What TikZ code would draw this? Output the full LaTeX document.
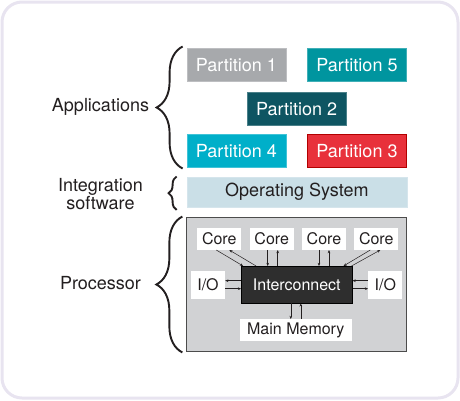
\documentclass[tikz,border=0pt]{standalone}
\usepackage{fontspec}
\setmainfont{TeX Gyre Heros}
\usepackage{tikz}
\usetikzlibrary{arrows.meta, positioning, decorations.pathreplacing}
\definecolor{framelav}{HTML}{E8E4F0}
\definecolor{partgray}{HTML}{A7A9AC}
\definecolor{partteal}{HTML}{00959F}
\definecolor{partdark}{HTML}{0E5562}
\definecolor{partcyan}{HTML}{00AFC9}
\definecolor{partred}{HTML}{E8313B}
\definecolor{osblue}{HTML}{CADFE7}
\definecolor{procgray}{HTML}{D1D2D4}
\definecolor{inkdark}{HTML}{231F20}

\begin{document}
\begin{tikzpicture}[x=1pt, y=-1pt,
  part/.style={rectangle, draw=#1!75!white, fill=#1, text=white, minimum width=99pt, minimum height=33pt, inner sep=0pt, font=\fontsize{18}{20}\selectfont},
  unit/.style={rectangle, fill=white, minimum height=22pt, inner sep=0pt, text=inkdark, font=\fontsize{16}{18}\selectfont},
  side/.style={align=center, text=inkdark, font=\fontsize{18}{20}\selectfont},
  link/.style={-{Stealth[length=3.2pt, width=2.6pt]}, line width=0.5pt, inkdark},
  brc/.style={decorate, decoration={brace, amplitude=#1}, line width=1.9pt, inkdark}
]
\useasboundingbox (0,0) rectangle (460,400);
\draw[framelav, fill=white, line width=3pt, rounded corners=20pt] (2,2) rectangle (458,398);

% Applications
\node[part=partgray] (p1) at (236.3,64.7) {Partition 1};
\node[part=partteal] (p5) at (357,64.7) {Partition 5};
\node[part=partdark] (p2) at (296.7,108.8) {Partition 2};
\node[part=partcyan] (p4) at (236.3,150.8) {Partition 4};
\node[part=partred, draw=red!70!black] (p3) at (357,150.8) {Partition 3};

% Integration software
\node[rectangle, fill=osblue, draw=osblue!80!white, minimum width=220pt, minimum height=30pt, inner sep=0pt, text=inkdark, font=\fontsize{18}{20}\selectfont] (os) at (296.8,192.2) {Operating System};

% Processor
\node[rectangle, fill=procgray, draw=black!70, line width=0.9pt, minimum width=220pt, minimum height=134pt] (proc) at (296.8,284.5) {};
\node[unit, minimum width=44pt] (c1) at (219.3,238.8) {Core};
\node[unit, minimum width=44pt] (c2) at (271.7,238.8) {Core};
\node[unit, minimum width=44pt] (c3) at (324,238.8) {Core};
\node[unit, minimum width=44pt] (c4) at (376.3,238.8) {Core};
\node[rectangle, fill=black!82, draw=black, minimum width=111pt, minimum height=37pt, inner sep=0pt, text=white, font=\fontsize{16}{18}\selectfont] (ic) at (296.8,284.7) {Interconnect};
\node[unit, minimum width=34pt, minimum height=28pt] (io1) at (208,284.5) {I/O};
\node[unit, minimum width=34pt, minimum height=28pt] (io2) at (385.3,284.5) {I/O};
\node[unit, minimum width=112pt] (mem) at (295.8,330.2) {Main Memory};

% Core links
\draw[link] ([xshift=-3pt]c1.south) -- ([xshift=2pt]ic.north west);
\draw[link] ([xshift=15pt]ic.north west) -- ([xshift=10pt]c1.south);
\draw[link] ([xshift=-4pt]c2.south) -- ([xshift=-4pt]c2.south |- ic.north);
\draw[link] ([xshift=6pt]c2.south |- ic.north) -- ([xshift=6pt]c2.south);
\draw[link] ([xshift=-5pt]c3.south) -- ([xshift=-5pt]c3.south |- ic.north);
\draw[link] ([xshift=5pt]c3.south |- ic.north) -- ([xshift=5pt]c3.south);
\draw[link] ([xshift=-6pt]c4.south) -- ([xshift=-9pt]ic.north east);
\draw[link] ([xshift=-1pt]ic.north east) -- ([xshift=4pt]c4.south);

% I/O and memory links
\draw[link] ([yshift=4pt]ic.west) -- ([yshift=4pt]ic.west -| io1.east);
\draw[link] ([yshift=-4pt]ic.west -| io1.east) -- ([yshift=-4pt]ic.west);
\draw[link] ([yshift=4pt]ic.east -| io2.west) -- ([yshift=4pt]ic.east);
\draw[link] ([yshift=-4pt]ic.east) -- ([yshift=-4pt]ic.east -| io2.west);
\draw[link] ([xshift=-5pt]mem.north |- ic.south) -- ([xshift=-5pt]mem.north);
\draw[link] ([xshift=5pt]mem.north) -- ([xshift=5pt]mem.north |- ic.south);

% Braces and side labels
\draw[brc=26pt] ([shift={(-4pt,-1pt)}]p4.south west) -- ([shift={(-4pt,1.5pt)}]p1.north west);
\draw[brc=8pt] ([shift={(-10pt,-2.5pt)}]os.south west) -- ([shift={(-10pt,0.5pt)}]os.north west);
\draw[brc=26pt] ([shift={(-4pt,-0.5pt)}]proc.south west) -- ([shift={(-4pt,0.5pt)}]proc.north west);
\node[side] (apps) at (100.5,107.3) {Applications};
\node[side] (integ) at (100.5,194) {Integration\\[-2pt]software};
\node[side] (procl) at (100.5,283) {Processor};
\end{tikzpicture}
\end{document}
